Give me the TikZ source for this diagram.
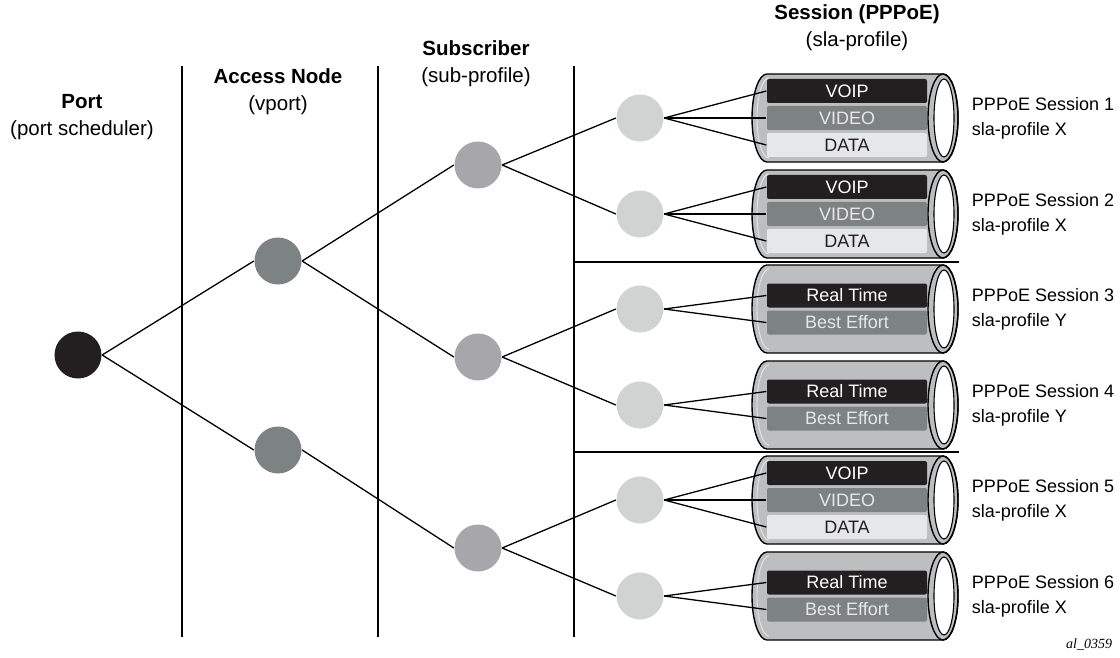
\documentclass[tikz,border=0pt]{standalone}
\usepackage{fontspec}
\setmainfont{Liberation Sans}
\newfontfamily\tagfont{Liberation Serif}
\definecolor{portblack}{HTML}{231F20}
\definecolor{vportgray}{HTML}{7D8382}
\definecolor{subgray}{HTML}{A7A7AB}
\definecolor{slagray}{HTML}{CFD4D3}
\definecolor{pipegray}{HTML}{BCBEC0}
\definecolor{datagray}{HTML}{E6E7E8}

\newcommand{\slapipe}[1]{%
  \filldraw[fill=pipegray, line width=1.4pt] (943,#1-44) -- (767,#1-44)
    arc[start angle=90, end angle=270, x radius=15pt, y radius=44pt] -- (943,#1+44)
    arc[start angle=-90, end angle=90, x radius=15pt, y radius=44pt] -- cycle;
  \draw[datagray, line width=0.9pt] (769,#1-40)
    arc[start angle=90, end angle=270, x radius=12pt, y radius=40pt];
  \draw[line width=1.4pt] (943,#1) ellipse[x radius=15pt, y radius=44pt];
  \filldraw[fill=white, line width=1.1pt] (944,#1) ellipse[x radius=10pt, y radius=39pt];
}
\newcommand{\threeq}[2]{%
  \node[cls, fill=portblack, text=white] (#1a) at (847,#2-27) {VOIP};
  \node[cls, fill=vportgray, text=datagray] (#1b) at (847,#2) {VIDEO};
  \node[cls, fill=datagray, text=portblack] (#1c) at (847,#2+27) {DATA};
}
\newcommand{\twoq}[2]{%
  \node[cls, fill=portblack, text=white] (#1a) at (847,#2-13.5) {Real Time};
  \node[cls, fill=vportgray, text=datagray] (#1b) at (847,#2+13.5) {Best Effort};
}

\begin{document}
\begin{tikzpicture}[x=1pt, y=-1pt, line width=1.3pt,
  dot/.style={circle, minimum size=47pt, inner sep=0pt},
  cls/.style={rounded corners=2pt, minimum width=160pt, minimum height=24pt,
    inner sep=0pt, font=\fontsize{18}{18}\selectfont},
  head/.style={align=center, font=\fontsize{20.5}{27}\selectfont},
  tag/.style={anchor=west, align=left, font=\fontsize{18}{25}\selectfont}]
  \useasboundingbox (0,0) rectangle (1120,658);

  \draw[line width=2.4pt] (182,66) -- (182,637);
  \draw[line width=2.4pt] (378,66) -- (378,637);
  \draw[line width=2.4pt] (574,66) -- (574,637);
  \draw[line width=1.8pt] (574,262) -- (959,262);
  \draw[line width=1.8pt] (574,452) -- (959,452);

  \node[head] (hport) at (82,117) {\textbf{Port}\\(port scheduler)};
  \node[head] (hvport) at (278,92) {\textbf{Access Node}\\(vport)};
  \node[head] (hsub) at (476,64) {\textbf{Subscriber}\\(sub-profile)};
  \node[head] (hsla) at (857,28) {\textbf{Session (PPPoE)}\\(sla-profile)};

  \slapipe{118}
  \slapipe{214}
  \slapipe{309}
  \slapipe{405}
  \slapipe{500}
  \slapipe{596}
  \threeq{q1}{118}
  \threeq{q2}{214}
  \twoq{q3}{309}
  \twoq{q4}{405}
  \threeq{q5}{500}
  \twoq{q6}{596}

  \node[dot, fill=portblack] (port) at (78,355) {};
  \node[dot, fill=vportgray] (an1) at (278,261) {};
  \node[dot, fill=vportgray] (an2) at (278,450) {};
  \node[dot, fill=subgray] (sub1) at (478,165) {};
  \node[dot, fill=subgray] (sub2) at (478,357) {};
  \node[dot, fill=subgray] (sub3) at (478,548) {};
  \node[dot, fill=slagray] (s1) at (640,118) {};
  \node[dot, fill=slagray] (s2) at (640,214) {};
  \node[dot, fill=slagray] (s3) at (640,309) {};
  \node[dot, fill=slagray] (s4) at (640,405) {};
  \node[dot, fill=slagray] (s5) at (640,500) {};
  \node[dot, fill=slagray] (s6) at (640,596) {};

  \draw (port.east) -- (an1.west);
  \draw (port.east) -- (an2.west);
  \draw (an1.east) -- (sub1.west);
  \draw (an1.east) -- (sub2.west);
  \draw (an2.east) -- (sub3.west);
  \draw (sub1.east) -- (s1.west);
  \draw (sub1.east) -- (s2.west);
  \draw (sub2.east) -- (s3.west);
  \draw (sub2.east) -- (s4.west);
  \draw (sub3.east) -- (s5.west);
  \draw (sub3.east) -- (s6.west);
  \draw (s1.east) -- (q1a.west);
  \draw (s1.east) -- (q1b.west);
  \draw (s1.east) -- (q1c.west);
  \draw (s2.east) -- (q2a.west);
  \draw (s2.east) -- (q2b.west);
  \draw (s2.east) -- (q2c.west);
  \draw (s3.east) -- (q3a.west);
  \draw (s3.east) -- (q3b.west);
  \draw (s4.east) -- (q4a.west);
  \draw (s4.east) -- (q4b.west);
  \draw (s5.east) -- (q5a.west);
  \draw (s5.east) -- (q5b.west);
  \draw (s5.east) -- (q5c.west);
  \draw (s6.east) -- (q6a.west);
  \draw (s6.east) -- (q6b.west);

  \node[tag] (l1) at (968,118) {PPPoE Session 1\\sla-profile X};
  \node[tag] (l2) at (968,214) {PPPoE Session 2\\sla-profile X};
  \node[tag] (l3) at (968,309) {PPPoE Session 3\\sla-profile Y};
  \node[tag] (l4) at (968,405) {PPPoE Session 4\\sla-profile Y};
  \node[tag] (l5) at (968,500) {PPPoE Session 5\\sla-profile X};
  \node[tag] (l6) at (968,596) {PPPoE Session 6\\sla-profile X};
  \node[anchor=south east, font=\tagfont\itshape\fontsize{14}{14}\selectfont]
    (fig) at (1116,654) {al\_0359};
\end{tikzpicture}
\end{document}
